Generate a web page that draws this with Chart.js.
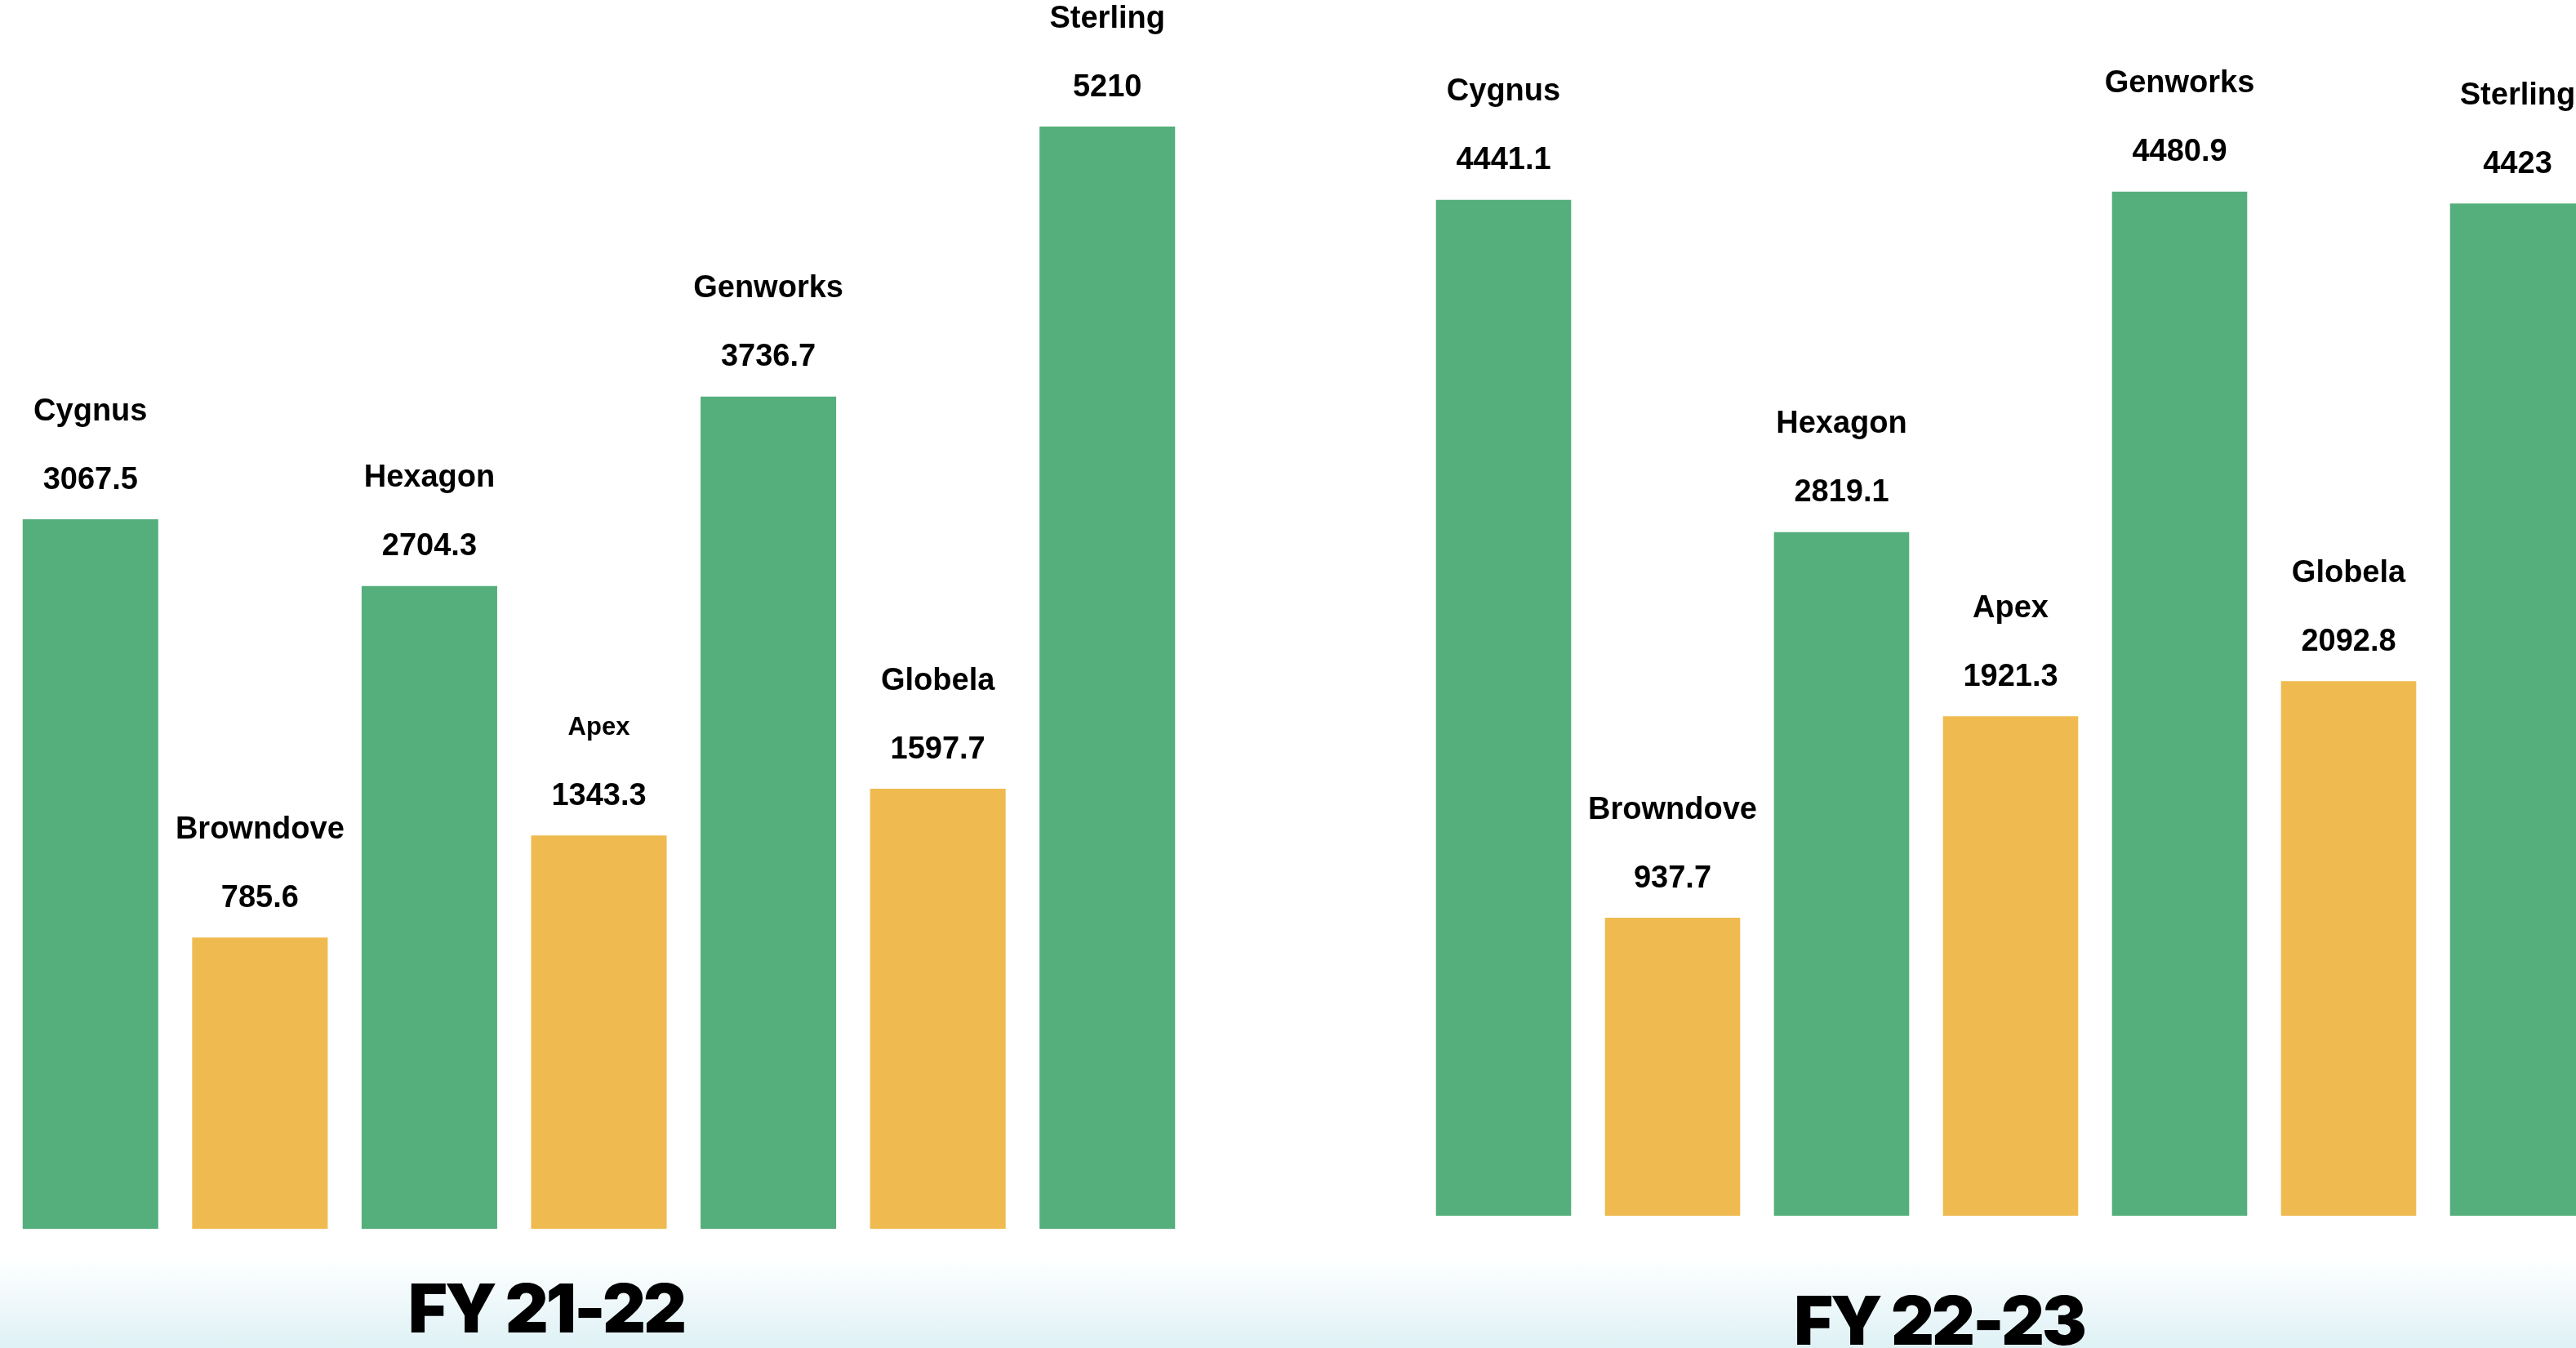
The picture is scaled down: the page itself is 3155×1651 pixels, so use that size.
<!DOCTYPE html>
<html>
<head>
<meta charset="utf-8">
<script src="https://cdn.jsdelivr.net/npm/chart.js@4.4.1/dist/chart.umd.min.js"></script>
<style>
    html, body { margin: 0; padding: 0; }
    body {
        width: 3155px;
        height: 1651px;
        overflow: hidden;
        position: relative;
        background: linear-gradient(to bottom, #ffffff 0px, #ffffff 1540px, #def1f5 1651px);
    }
    canvas { position: absolute; top: 0; }
    .period {
        position: absolute;
        font-family: "Inter", Roboto, sans-serif;
        font-weight: 900;
        font-size: 82px;
        line-height: 82px;
        letter-spacing: -3px;
        color: #000;
        white-space: nowrap;
        transform: translateX(-50%);
    }
</style>
</head>
<body>
<canvas id="chart2122" width="1467" height="1505" style="left:0px"></canvas>
<canvas id="chart2223" width="1463" height="1489" style="left:1731px"></canvas>
<div class="period" id="title2122" style="left:669px; top:1562px"></div>
<div class="period" id="title2223" style="left:2375px; top:1577px"></div>
<script>
const companies = ["Cygnus", "Browndove", "Hexagon", "Apex", "Genworks", "Globela", "Sterling"];
const fy2122 = [3067.5, 785.6, 2704.3, 1343.3, 3736.7, 1597.7, 5210];
const fy2223 = [4441.1, 937.7, 2819.1, 1921.3, 4480.9, 2092.8, 4423];
const periods = ["FY 21-22", "FY 22-23"];

const green = "#55af7c";
const yellow = "#efbb50";
const barColors = companies.map((c, i) => i % 2 === 0 ? green : yellow);

// name + value drawn above each bar
const barLabels = {
    id: "barLabels",
    afterDatasetsDraw(chart) {
        const ctx = chart.ctx;
        const meta = chart.getDatasetMeta(0);
        const values = chart.data.datasets[0].data;
        ctx.save();
        ctx.fillStyle = "#000";
        ctx.textAlign = "center";
        ctx.textBaseline = "middle";
        meta.data.forEach((bar, i) => {
            ctx.font = "bold 38px 'Liberation Sans', Arial, sans-serif";
            ctx.fillText(String(values[i]), bar.x, bar.y - 48);
            const small = chart.canvas.id === "chart2122" && chart.data.labels[i] === "Apex";
            ctx.font = (small ? "bold 31px" : "bold 38px") + " 'Liberation Sans', Arial, sans-serif";
            ctx.fillText(chart.data.labels[i], bar.x, bar.y - 48 - 84);
        });
        ctx.restore();
    }
};

function makeChart(id, values, min, max) {
    return new Chart(document.getElementById(id), {
        type: "bar",
        data: {
            labels: companies,
            datasets: [{
                data: values,
                backgroundColor: barColors,
                base: min,
                barPercentage: 0.8,
                categoryPercentage: 1
            }]
        },
        options: {
            responsive: false,
            animation: false,
            devicePixelRatio: 1,
            layout: { padding: { left: 7, right: 7, top: 0, bottom: 0 } },
            plugins: {
                legend: { display: false },
                tooltip: { enabled: false }
            },
            scales: {
                x: { display: false },
                y: { display: false, min: min, max: max }
            }
        },
        plugins: [barLabels]
    });
}

makeChart("chart2122", fy2122, -803, 5901);
makeChart("chart2223", fy2223, -516, 5416);

document.getElementById("title2122").textContent = periods[0];
document.getElementById("title2223").textContent = periods[1];
</script>
</body>
</html>
